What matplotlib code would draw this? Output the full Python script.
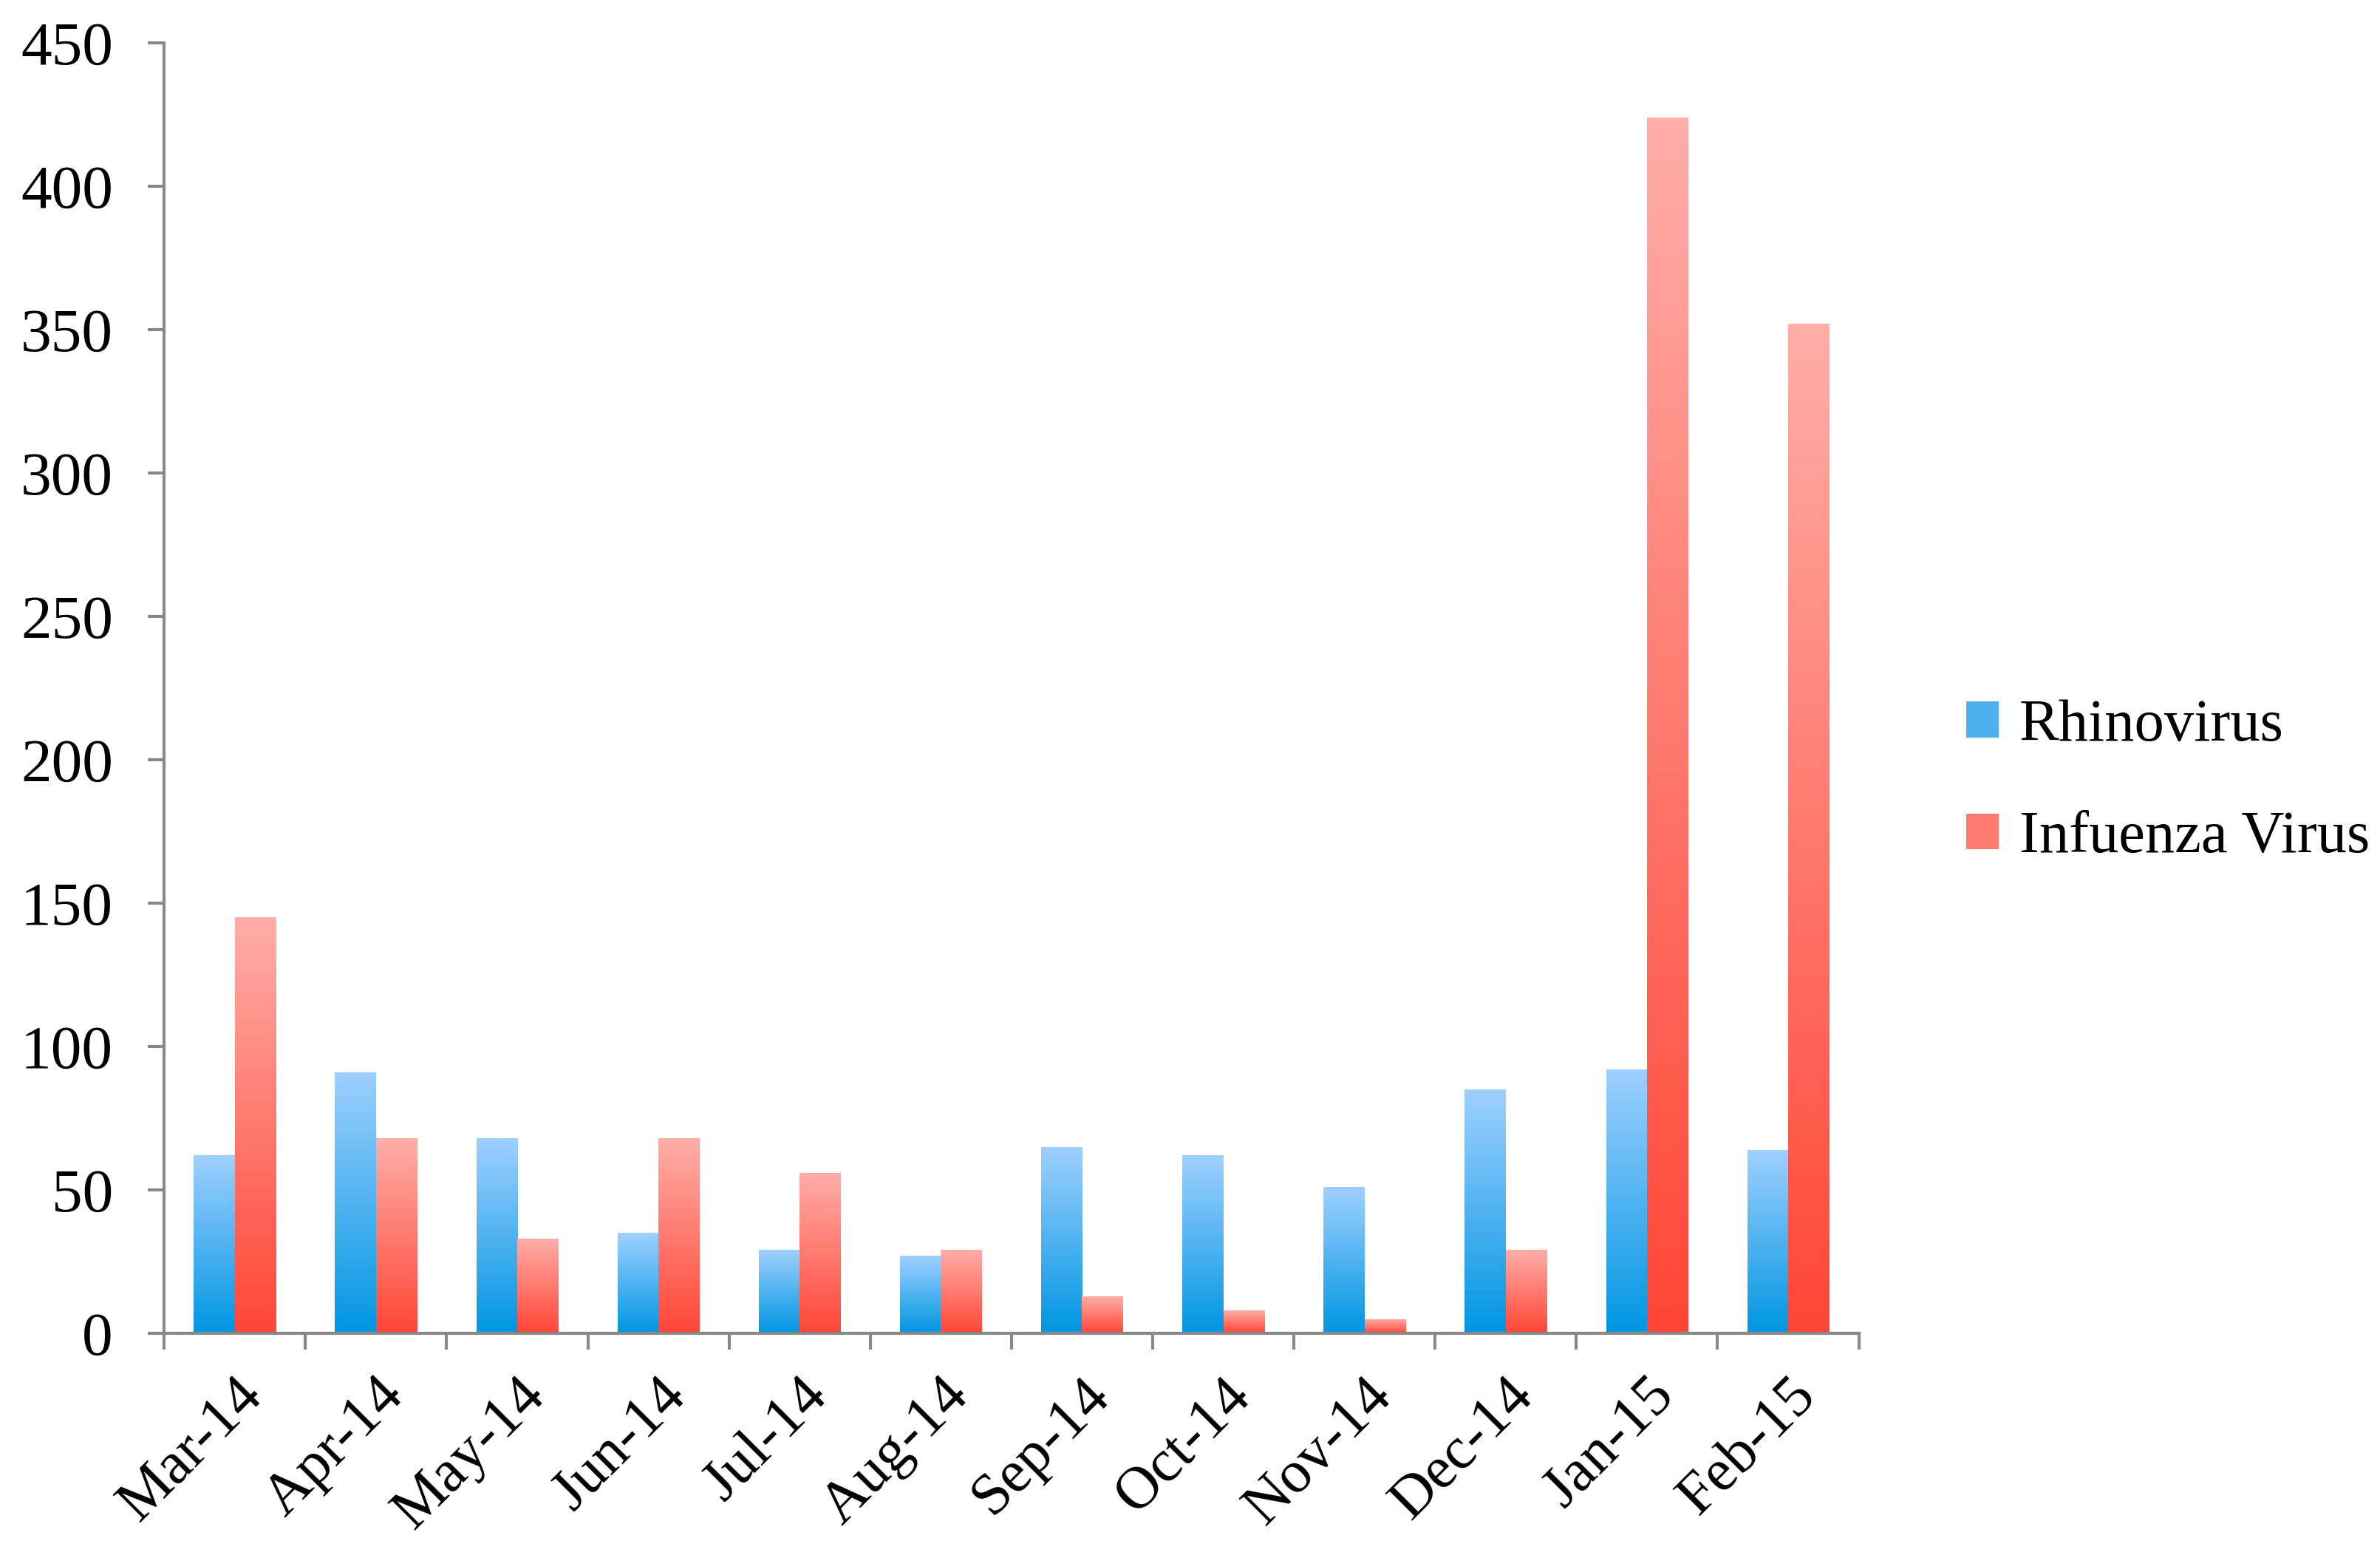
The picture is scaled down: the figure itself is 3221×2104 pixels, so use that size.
import numpy as np
import matplotlib
matplotlib.use('Agg')
import matplotlib.pyplot as plt
from matplotlib.colors import LinearSegmentedColormap
from matplotlib.patches import Patch

months = ['Mar-14', 'Apr-14', 'May-14', 'Jun-14', 'Jul-14', 'Aug-14',
          'Sep-14', 'Oct-14', 'Nov-14', 'Dec-14', 'Jan-15', 'Feb-15']
rhinovirus = [62, 91, 68, 35, 29, 27, 65, 62, 51, 85, 92, 64]
influenza = [145, 68, 33, 68, 56, 29, 13, 8, 5, 29, 424, 352]
y_ticks = [0, 50, 100, 150, 200, 250, 300, 350, 400, 450]

blue_map = LinearSegmentedColormap.from_list('b', ['#0096e2', '#9fd0ff'])
red_map = LinearSegmentedColormap.from_list('r', ['#ff4636', '#ffaea8'])

plt.rcParams['font.family'] = ['Liberation Serif', 'DejaVu Serif']

dpi = 100
fig = plt.figure(figsize=(3221 / dpi, 2104 / dpi), dpi=dpi)
ax = fig.add_axes([0.069, 0.1426, 0.712, 0.83])

x = np.arange(len(months))
w = 0.29
grad = np.linspace(0, 1, 256).reshape(-1, 1)


def gradient_bars(xs, vals, cmap, label):
    """Bars filled with a vertical gradient, dark at the base"""
    bars = ax.bar(xs, vals, width=w, color='none', edgecolor='none',
                  label=label, zorder=2)
    for b in bars:
        x0 = b.get_x()
        im = ax.imshow(grad, extent=[x0, x0 + b.get_width(), 0, b.get_height()],
                       origin='lower', aspect='auto', cmap=cmap, zorder=2)
        im.set_clip_path(b)
    return bars


gradient_bars(x - w / 2, rhinovirus, blue_map, 'Rhinovirus')
gradient_bars(x + w / 2, influenza, red_map, 'Infuenza Virus')

ax.set_xlim(-0.5, len(months) - 0.5)
ax.set_ylim(0, 450)
ax.set_yticks(y_ticks)
ax.set_xticks(x)
ax.set_xticklabels(months, rotation=45, ha='right', rotation_mode='anchor')
ax.set_xticks(np.arange(-0.5, len(months), 1), minor=True)
ax.tick_params(axis='x', which='major', length=0, pad=34, labelsize=58)
ax.tick_params(axis='x', which='minor', length=16, width=3, color='#888888',
               direction='out')
ax.tick_params(axis='y', length=16, width=3, color='#888888', labelsize=60,
               pad=34)

for s in ['top', 'right']:
    ax.spines[s].set_visible(False)
for s in ['left', 'bottom']:
    ax.spines[s].set_color('#888888')
    ax.spines[s].set_linewidth(3)

handles = [Patch(facecolor='#4fb0f0', label='Rhinovirus'),
           Patch(facecolor='#ff7a70', label='Infuenza Virus')]
fig.legend(handles=handles, loc='center left', bbox_to_anchor=(0.826, 0.497),
           frameon=False, fontsize=58, handlelength=0.55, handleheight=0.55,
           handletextpad=0.35, labelspacing=0.97, borderpad=0,
           borderaxespad=0)

fig.savefig('out.png', dpi=dpi)
